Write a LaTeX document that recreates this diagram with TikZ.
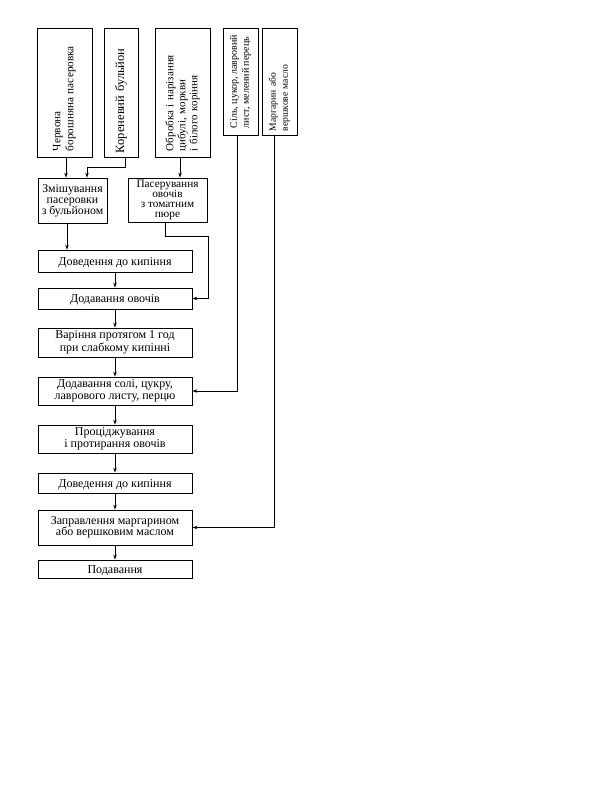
\documentclass[tikz,border=0pt]{standalone}
\usepackage{fontspec}
\setmainfont{Liberation Serif}
\usetikzlibrary{arrows.meta,calc}
\begin{document}
\begin{tikzpicture}[x=1pt,y=-1pt,
  box/.style={draw,line width=0.8pt,inner sep=1pt,align=center,font=\fontsize{12}{12.5}\selectfont},
  mainbox/.style={box,minimum width=154pt,execute at begin node={\rule{0pt}{11.5pt}}},
  vbox/.style={draw,line width=0.8pt,rotate=90,inner sep=2pt,align=left,font=\fontsize{11.2}{13}\selectfont},
  arr/.style={line width=0.7pt,-{Stealth[length=5pt,width=3.5pt]}},
  ln/.style={line width=0.7pt}]
\useasboundingbox[fill=white] (0,0) rectangle (608,785);

% top input boxes (vertical text)
\node[vbox,minimum width=129pt,minimum height=55pt,text width=117pt] (b1) at (64.5,92.5) {Червона\\борошняна пасеровка};
\node[vbox,minimum width=129pt,minimum height=34pt,text width=121pt,font=\fontsize{12.5}{13}\selectfont] (b2) at (121,92.5) {Кореневий бульйон};
\node[vbox,minimum width=129pt,minimum height=55pt,text width=117pt,font=\fontsize{11}{12}\selectfont] (b3) at (182.5,92.5) {Обробка і нарізання\\цибулі, моркви\\і білого коріння};
\node[vbox,minimum width=107pt,minimum height=35pt,font=\fontsize{10}{12}\selectfont] (b4) at (240.5,81.5) {Сіль, цукор, лавровий\\лист, мелений перець};
\node[vbox,minimum width=107pt,minimum height=35pt,text width=99pt,font=\fontsize{9.6}{12}\selectfont] (b5) at (279.5,81.5) {Маргарин або\\вершкове масло};

% second row
\node[box,minimum width=69pt,minimum height=45pt,font=\fontsize{11.8}{11}\selectfont] (mix) at (72.5,200.5) {Змішування\\пасеровки\\з бульйоном};
\node[box,minimum width=79pt,minimum height=44pt,font=\fontsize{11.3}{10.3}\selectfont] (pas) at (167.5,200) {Пасерування\\овочів\\з томатним\\пюре};

% main column
\node[mainbox,minimum height=22pt] (boil1) at (115,261) {Доведення до кипіння};
\node[mainbox,minimum height=21pt] (add1) at (115,298.5) {Додавання овочів};
\node[mainbox,minimum height=29pt,font=\fontsize{12}{13}\selectfont] (cook) at (115,342.5) {Варіння протягом 1 год\\при слабкому кипінні};
\node[mainbox,minimum height=28pt] (salt) at (115,391) {Додавання солі, цукру,\\лаврового листу, перцю};
\node[mainbox,minimum height=28pt,font=\fontsize{12}{11.5}\selectfont] (strain) at (115,439) {Проціджування\\і протирання овочів};
\node[mainbox,minimum height=20pt] (boil2) at (115,483) {Доведення до кипіння};
\node[mainbox,minimum height=35pt,font=\fontsize{12}{11.5}\selectfont] (dress) at (115,527.5) {Заправлення маргарином\\або вершковим маслом};
\node[mainbox,minimum height=18pt] (serve) at (115,569) {Подавання};

% connectors from top boxes
\draw[arr] ($(b1.west)+(1.5,0)$) -- ($(b1.west |- mix.north)+(1.5,0)$);
\draw[arr] ($(b2.west)+(4,0)$) -- ++(0,10) -| ($(mix.north)+(14.5,0)$);
\draw[arr] ($(b3.west)+(-2.5,0)$) -- ($(b3.west |- pas.north)+(-2.5,0)$);
\draw[arr] ($(b4.west)+(-3.5,0)$) |- (salt.east);
\draw[arr] ($(b5.west)+(-5.5,0)$) |- (dress.east);

% second row to main column
\draw[arr] ($(mix.south)+(-5.5,0)$) -- ($(mix.south |- boil1.north)+(-5.5,0)$);
\draw[ln] ($(pas.south)+(-2.5,0)$) -- ++(0,14) -| ($(add1.east)+(16,0)$);
\draw[arr] ($(add1.east)+(16,0)$) -- (add1.east);

% main column arrows
\draw[arr] (boil1) -- (add1);
\draw[arr] (add1) -- (cook);
\draw[arr] (cook) -- (salt);
\draw[arr] (salt) -- (strain);
\draw[arr] (strain) -- (boil2);
\draw[arr] (boil2) -- (dress);
\draw[arr] (dress) -- (serve);
\end{tikzpicture}
\end{document}
